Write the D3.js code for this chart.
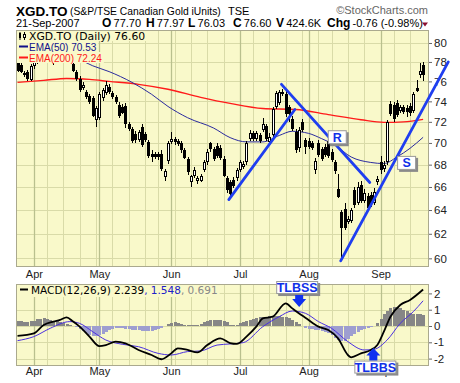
<!DOCTYPE html>
<html><head><meta charset="utf-8">
<script src="https://cdn.jsdelivr.net/npm/d3@7"></script>
<style>body{margin:0;background:#fff;}svg{display:block;}</style>
</head><body>
<svg id="c" width="460" height="383"></svg>
<script>
// ---------------- DATA ----------------
const startDate = "2007-03-26", endDate = "2007-09-21";
const holidays = ["2007-04-06","2007-05-21","2007-07-02","2007-08-06","2007-09-03"];
const monthLabels = ["Apr","May","Jun","Jul","Aug","Sep"];
const priceTicks = [60,62,64,66,68,70,72,74,76,78,80];
const macdTicks = [-2,-1,0,1,2];

const open = [77.9,77.7,76.9,77.0,76.1,77.6,78.0,78.6,79.0,79.0,79.5,79.1,78.4,78.9,79.2,79.3,78.9,77.8,77.0,76.2,
75.3,74.9,74.5,74.3,72.2,72.4,74.3,74.8,75.4,74.8,74.4,73.6,73.4,73.5,71.8,71.3,70.8,70.3,71.5,70.8,
70.1,69.0,69.0,69.0,69.0,66.9,68.3,70.1,70.4,70.2,70.0,69.3,68.5,66.4,67.0,66.5,66.5,67.5,68.2,70.0,
69.4,69.7,69.5,68.5,66.8,66.4,66.6,66.8,67.5,67.8,68.2,70.4,70.9,70.4,70.7,71.2,71.6,70.1,70.7,73.4,
73.8,74.9,74.7,73.4,72.3,71.0,69.5,72.0,70.3,70.2,70.0,67.5,70.0,69.4,69.6,70.2,69.2,68.2,65.8,63.8,
64.1,63.0,63.1,65.7,64.6,66.2,64.8,65.2,65.3,64.6,66.4,68.2,67.6,68.2,73.7,73.6,73.8,73.1,73.4,73.3,
73.5,73.1,75.3,76.7,77.70];
const high = [78.1,77.9,77.1,77.2,77.8,78.2,78.8,79.3,79.6,79.9,80.0,79.4,79.0,79.5,79.8,79.6,79.2,78.2,77.2,76.5,
75.9,75.1,74.7,74.5,73.5,74.9,75.3,76.0,75.7,75.0,74.6,73.9,73.7,73.8,72.0,71.5,71.1,71.2,71.8,71.0,
70.3,69.3,69.2,69.2,69.3,67.6,70.2,71.0,70.6,70.4,70.2,69.5,68.7,67.1,67.8,67.0,67.2,68.4,69.4,70.1,
69.6,70.0,69.8,68.8,67.0,66.6,66.9,67.7,68.4,68.3,70.2,71.2,71.1,71.1,70.9,72.4,71.8,70.9,73.4,75.0,
75.1,75.2,75.0,73.6,72.6,71.3,71.5,72.3,70.5,70.5,70.2,68.6,70.3,69.6,69.9,70.6,69.4,68.4,67.2,64.0,
64.6,63.5,64.2,66.0,66.4,66.5,65.8,65.5,65.6,65.9,67.0,68.8,68.3,72.2,74.0,73.9,74.1,73.6,73.6,73.6,
73.8,74.9,76.1,77.9,77.97];
const low = [77.0,76.9,76.4,76.0,76.0,77.3,77.8,78.3,78.6,78.7,78.9,77.7,78.1,78.5,78.8,78.6,77.9,77.0,76.0,74.9,
75.1,74.2,73.7,72.5,71.5,72.2,74.0,74.6,74.7,74.2,73.7,72.4,72.8,71.4,71.1,70.0,70.0,70.1,69.6,70.1,
68.6,68.2,68.5,68.4,67.4,66.5,68.1,69.9,69.8,69.7,69.1,68.5,67.1,66.0,66.8,66.3,66.4,67.3,68.0,69.2,
68.3,68.6,68.4,66.9,65.5,65.2,65.9,66.5,67.3,67.6,68.0,70.2,70.2,70.2,70.0,71.0,70.2,69.9,70.5,73.2,
73.6,74.5,72.5,72.0,71.1,69.1,69.2,71.0,69.0,69.4,69.3,67.2,68.7,68.3,68.7,68.6,68.2,67.2,65.0,59.9,
62.3,62.8,62.9,64.2,64.4,64.6,64.6,64.0,64.3,64.4,66.2,67.2,67.3,68.0,72.6,72.0,72.5,72.9,72.8,72.5,
72.6,72.9,74.9,76.3,76.03];
const close = [77.1,77.0,76.7,76.2,77.6,78.0,78.6,79.0,78.9,79.6,79.2,78.4,78.8,79.2,79.4,78.9,78.2,77.1,76.2,75.1,
75.6,74.4,73.9,72.6,73.3,74.7,75.1,75.6,74.9,74.4,73.9,72.6,72.9,71.8,71.3,70.2,70.3,71.0,69.8,70.3,
68.8,68.7,68.7,68.7,67.6,67.4,70.0,70.4,70.1,69.9,69.3,68.6,67.3,67.0,67.5,66.8,67.0,68.2,69.2,69.4,
68.5,68.8,68.6,67.0,65.7,65.4,66.1,67.5,68.2,68.1,70.0,70.9,70.4,70.9,70.2,71.8,70.4,70.6,73.2,74.8,
74.9,74.7,72.8,72.8,71.3,69.3,71.2,71.2,69.6,69.6,69.5,68.3,68.9,68.5,68.9,68.8,68.4,67.4,65.1,62.5,
62.5,63.2,64.0,64.4,66.0,64.8,65.5,64.2,64.5,65.6,66.7,67.5,68.0,72.0,72.8,72.3,72.7,73.4,73.0,73.0,
72.9,74.7,75.0,77.1,76.60];

const ema50Idx = [0,10,18,23,28,35,41,46,52,60,65,70,75,80,84,89,93,97,102,108,112,116,120,124];
const ema50    = [79.6,79.3,78.4,77.6,77.0,75.9,74.7,73.5,72.4,71.4,70.5,70.1,70.1,70.7,71.1,70.9,70.4,69.8,68.7,68.2,68.1,68.7,69.5,70.53];
const ema200Idx = [0,8,15,22,28,37,46,56,65,75,85,95,105,112,118,124];
const ema200    = [75.9,76.1,76.3,76.2,76.0,75.7,75.2,74.4,73.8,73.3,73.2,72.7,72.2,71.95,72.0,72.24];

const macdIdx = [0,5,8,11,13,15,17,19,22,25,27,30,33,37,41,44,47,49,52,55,58,62,65,67,70,73,75,78,82,84,86,88,92,95,98,101,102,105,108,110,112,114,117,120,124];
const macd    = [-0.6,-0.45,0.06,0.27,0.37,0.53,0.27,-0.04,-0.65,-1.23,-1.17,-0.96,-1.06,-1.47,-1.78,-2.04,-1.68,-1.37,-1.47,-1.62,-1.17,-0.76,-1.05,-1.1,-0.65,-0.04,0.47,0.57,1.39,1.08,0.78,0.51,-0.04,-0.25,-0.76,-1.78,-1.92,-1.68,-1.47,-1.17,-0.35,0.57,1.29,1.6,2.239];
const signalIdx = [0,5,10,16,19,23,27,32,37,43,47,52,56,61,65,69,75,80,84,88,92,96,101,106,109,113,117,121,124];
const signal    = [-0.9,-0.65,-0.14,0.27,0.16,-0.35,-0.86,-1.12,-1.27,-1.68,-1.78,-1.57,-1.53,-1.17,-1.1,-1.02,-0.04,0.57,0.92,0.78,0.27,-0.14,-0.96,-1.47,-1.43,-0.86,0.16,0.88,1.548];
const hist = [0.30,0.28,0.27,0.26,0.28,0.32,0.40,0.46,0.48,0.44,0.38,0.32,0.28,0.22,0.18,0.12,0.06,0.00,-0.08,-0.18,
-0.30,-0.42,-0.55,-0.62,-0.64,-0.58,-0.48,-0.38,-0.26,-0.16,-0.12,-0.12,-0.14,-0.18,-0.20,-0.22,-0.24,-0.26,-0.28,-0.30,
-0.30,-0.28,-0.24,-0.18,-0.10,0.02,0.12,0.20,0.22,0.18,0.12,0.08,0.06,0.04,0.05,0.06,0.14,0.24,0.30,0.34,
0.36,0.36,0.34,0.30,0.22,0.06,0.04,0.08,0.18,0.26,0.32,0.38,0.44,0.50,0.54,0.56,0.58,0.60,0.62,0.62,
0.60,0.58,0.56,0.48,0.36,0.22,0.10,-0.02,-0.10,-0.16,-0.20,-0.24,-0.26,-0.30,-0.36,-0.44,-0.56,-0.72,-0.86,-0.92,
-0.90,-0.78,-0.62,-0.48,-0.34,-0.24,-0.16,-0.10,-0.06,0.00,0.20,0.46,0.72,0.94,1.10,1.18,1.16,1.08,1.00,0.92,
0.82,0.76,0.72,0.74,0.69];

// trend lines drawn on the chart: [index, price]
const trendLines = [[[64.6,64.9],[84.8,73.2]], [[80.7,75.7],[107.7,66.4]], [[98.8,59.8],[131.7,78.0]]];
const boxLabels = [{t:"R", i:95, p:71.2}, {t:"S", i:116.2, p:68.8}];

// ---------------- SETUP ----------------
const svg = d3.select("#c");
const dates = [];
{
  const s = new Date(startDate+"T00:00:00Z"), e = new Date(endDate+"T00:00:00Z");
  for (let d = new Date(s); d <= e; d.setUTCDate(d.getUTCDate()+1)) {
    const iso = d.toISOString().slice(0,10), dw = d.getUTCDay();
    if (dw !== 0 && dw !== 6 && !holidays.includes(iso)) dates.push(new Date(d));
  }
}
const monthIdx = [], weekIdx = [];
dates.forEach((d,k) => {
  if (k === 0) return;
  const p = dates[k-1];
  if (d.getUTCMonth() !== p.getUTCMonth()) monthIdx.push(k);
  else if ((d - p) / 864e5 > 1 && d.getUTCDay() <= 2) weekIdx.push(k);
  else if (d.getUTCDay() < p.getUTCDay()) weekIdx.push(k);
});

const L = 16, R = 429, T1 = 30, B1 = 267, T2 = 284, B2 = 366;
const x = d3.scaleLinear().domain([-0.46, 125.8]).range([L, R]);
const yP = d3.scaleLog().domain([59.31, 81.4]).range([B1, T1]);
const yM = d3.scaleLinear().domain([-2.454, 2.577]).range([B2, T2]);

const BG = "#f9f9ca", GRID = "#d9dba8", MGRID = "#b9c08e", FRAME = "#aaa98e";
const FONT = "'Liberation Sans', Arial, sans-serif";
const VFONT = "'DejaVu Sans', Verdana, sans-serif";

// ---------------- HEADER ----------------
const hdr = svg.append("g").attr("font-family", FONT).attr("fill", "#000");
hdr.append("text").attr("x", 16).attr("y", 15.5).attr("font-size", 13.5).attr("font-weight", "bold").text("XGD.TO");
const sub = hdr.append("text").attr("x", 70).attr("y", 15).attr("font-size", 11).text("(S&P/TSE Canadian Gold iUnits)");
{
  const w = sub.node().getComputedTextLength();
  if (w > 151) sub.attr("font-size", 11 * 151 / w);
}
hdr.append("text").attr("x", 228).attr("y", 15).attr("font-size", 11).text("TSE");
hdr.append("text").attr("x", 428).attr("y", 14).attr("font-size", 11).attr("fill", "#666").attr("text-anchor", "end").text("\u00A9StockCharts.com");
hdr.append("text").attr("x", 16).attr("y", 27).attr("font-size", 11).text("21-Sep-2007");
const stats = [["O","77.70",102],["H","77.97",146],["L","76.03",188],["C","76.60",233],["V","424.6K",276],["Chg","-0.76 (-0.98%)",327]];
stats.forEach(s => {
  const t = hdr.append("text").attr("x", s[2]).attr("y", 27).attr("font-size", 11);
  t.append("tspan").attr("font-weight", "bold").attr("font-size", 12).text(s[0]);
  t.append("tspan").text("\u2009" + s[1]);
});
hdr.append("path").attr("d", "M422,22.5 L428,22.5 L425,26.5 Z").attr("fill", "#8b1030");

// ---------------- PANELS ----------------
function panel(top, bottom, yScale, ticks) {
  const g = svg.append("g");
  g.append("rect").attr("x", L).attr("y", top).attr("width", R-L).attr("height", bottom-top).attr("fill", BG);
  g.selectAll(".hg").data(ticks).join("line")
    .attr("x1", L).attr("x2", R).attr("y1", d => Math.round(yScale(d))+0.5).attr("y2", d => Math.round(yScale(d))+0.5)
    .attr("stroke", GRID);
  g.selectAll(".wg").data(weekIdx).join("line")
    .attr("x1", d => Math.round(x(d))+0.5).attr("x2", d => Math.round(x(d))+0.5).attr("y1", top).attr("y2", bottom)
    .attr("stroke", GRID);
  g.selectAll(".mg").data(monthIdx).join("line")
    .attr("x1", d => Math.round(x(d))+0.5).attr("x2", d => Math.round(x(d))+0.5).attr("y1", top).attr("y2", bottom)
    .attr("stroke", MGRID).attr("stroke-width", 1.3);
  return g;
}
panel(T1, B1, yP, priceTicks);
panel(T2, B2, yM, macdTicks);

svg.append("clipPath").attr("id", "cp1").append("rect").attr("x", L).attr("y", T1).attr("width", R-L).attr("height", B1-T1);
svg.append("clipPath").attr("id", "cp2").append("rect").attr("x", L).attr("y", T2).attr("width", R-L).attr("height", B2-T2);

// ---------------- MAIN PRICE ----------------
const main = svg.append("g").attr("clip-path", "url(#cp1)");
const lineP = d3.line().x(d => x(d[0])).y(d => yP(d[1])).curve(d3.curveMonotoneX);
main.append("path").datum(ema200Idx.map((k,j) => [k, ema200[j]])).attr("d", lineP)
  .attr("fill", "none").attr("stroke", "#ff1a1a").attr("stroke-width", 1.4);
main.append("path").datum(ema50Idx.map((k,j) => [k, ema50[j]])).attr("d", lineP)
  .attr("fill", "none").attr("stroke", "#2b2b9e").attr("stroke-width", 1);

const cg = main.append("g").attr("shape-rendering", "crispEdges");
dates.forEach((d,k) => {
  const px = Math.round(x(k));
  const o = open[k], c = close[k];
  cg.append("rect").attr("x", px).attr("width", 1)
    .attr("y", Math.round(yP(high[k]))).attr("height", Math.max(1, Math.round(yP(low[k])) - Math.round(yP(high[k]))))
    .attr("fill", "#000");
  const top = Math.round(yP(Math.max(o,c))), bot = Math.max(top+1, Math.round(yP(Math.min(o,c))));
  if (c < o) {
    cg.append("rect").attr("x", px-1).attr("width", 3).attr("y", top).attr("height", bot-top).attr("fill", "#000");
  } else {
    cg.append("rect").attr("x", px-0.5).attr("width", 2).attr("y", top+0.5).attr("height", Math.max(1, bot-top-1))
      .attr("fill", "#fff").attr("stroke", "#000").attr("stroke-width", 1);
  }
});

// axes
const axP = d3.axisRight(yP).tickValues(priceTicks).tickSize(3).tickPadding(2).tickFormat(d => String(d));
const gP = svg.append("g").attr("transform", `translate(${R},0)`).call(axP);
const axM = d3.axisRight(yM).tickValues(macdTicks).tickSize(3).tickPadding(2).tickFormat(d => String(d));
const gM = svg.append("g").attr("transform", `translate(${R},0)`).call(axM);
const axX1 = d3.axisBottom(x).tickValues(monthIdx).tickSize(0).tickPadding(3).tickFormat((d,j) => monthLabels[j]);
const gX1 = svg.append("g").attr("transform", `translate(0,${B1})`).call(axX1);
const axX2 = d3.axisBottom(x).tickValues(monthIdx).tickSize(0).tickPadding(1.5).tickFormat((d,j) => monthLabels[j]);
const gX2 = svg.append("g").attr("transform", `translate(0,${B2})`).call(axX2);
[gP, gM].forEach(g => {
  g.select(".domain").remove();
  g.selectAll("text").attr("font-family", FONT).attr("font-size", 11.5).attr("fill", "#222");
  g.selectAll("line").attr("stroke", "#666");
});
[gX1, gX2].forEach(g => {
  g.select(".domain").remove();
  g.selectAll("text").attr("font-family", FONT).attr("font-size", 11).attr("fill", "#222");
});

// ---------------- MACD ----------------
const mg = svg.append("g").attr("clip-path", "url(#cp2)");
mg.append("g").attr("shape-rendering", "crispEdges").selectAll("rect").data(hist).join("rect")
  .attr("x", (v,k) => Math.round(x(k)) - 1).attr("width", 2.6)
  .attr("y", v => yM(Math.max(0,v))).attr("height", v => Math.abs(yM(0) - yM(v)))
  .attr("fill", v => v >= 0 ? "#868686" : "#9e9ed0");
const lineM = d3.line().x(d => x(d[0])).y(d => yM(d[1])).curve(d3.curveMonotoneX);
mg.append("path").datum(signalIdx.map((k,j) => [k, signal[j]])).attr("d", lineM)
  .attr("fill", "none").attr("stroke", "#4a2fe0").attr("stroke-width", 1);
mg.append("path").datum(macdIdx.map((k,j) => [k, macd[j]])).attr("d", lineM)
  .attr("fill", "none").attr("stroke", "#000").attr("stroke-width", 1.8);

// frames
[[T1,B1],[T2,B2]].forEach(([t,b]) => svg.append("rect").attr("x", L+0.5).attr("y", t+0.5).attr("width", R-L-1).attr("height", b-t-1)
  .attr("fill", "none").attr("stroke", FRAME));

// ---------------- TREND LINES ----------------
svg.append("g").selectAll("line").data(trendLines).join("line")
  .attr("x1", d => x(d[0][0])).attr("y1", d => yP(d[0][1]))
  .attr("x2", d => x(d[1][0])).attr("y2", d => yP(d[1][1]))
  .attr("stroke", "#1f3ef0").attr("stroke-width", 2.8).attr("stroke-linecap", "round");

// ---------------- LEGENDS ----------------
function legendRow(yBase, label, color, font, size, marker, boxTop, boxBot) {
  const g = svg.append("g");
  const bg = g.append("rect").attr("fill", BG);
  const t = g.append("text").attr("x", 29).attr("y", yBase).attr("font-family", font).attr("font-size", size).attr("fill", color);
  label.forEach(p => t.append("tspan").attr("fill", p[1]).text(p[0]));
  const w = t.node().getComputedTextLength();
  bg.attr("x", L+1).attr("y", boxTop).attr("width", 29 + w + 2 - L - 1).attr("height", boxBot - boxTop);
  marker(g);
}
legendRow(39.5, [["XGD.TO (Daily) 76.60", "#000"]], "#000", VFONT, 10.8, g => {
  g.append("rect").attr("x", 19).attr("y", 33).attr("width", 2).attr("height", 5).attr("fill", "#000");
  g.append("rect").attr("x", 19.5).attr("y", 32).attr("width", 1).attr("height", 8).attr("fill", "#000");
  g.append("rect").attr("x", 23.5).attr("y", 34.5).attr("width", 2).attr("height", 3).attr("fill", "#fff").attr("stroke", "#000").attr("stroke-width", 1);
  g.append("rect").attr("x", 24).attr("y", 32).attr("width", 1).attr("height", 2.5).attr("fill", "#000");
  g.append("rect").attr("x", 24).attr("y", 38).attr("width", 1).attr("height", 2).attr("fill", "#000");
}, 31, 41);
legendRow(50.5, [["EMA(50) 70.53", "#10108a"]], "#10108a", FONT, 10, g => {
  g.append("rect").attr("x", 19).attr("y", 45.5).attr("width", 9).attr("height", 2).attr("fill", "#10108a");
}, 41, 52);
legendRow(61.5, [["EMA(200) 72.24", "#ff1a1a"]], "#ff1a1a", FONT, 10, g => {
  g.append("rect").attr("x", 19).attr("y", 56.5).attr("width", 9).attr("height", 2).attr("fill", "#ff1a1a");
}, 52, 63);
(function () {
  const g = svg.append("g");
  const bg = g.append("rect").attr("fill", BG);
  const t = g.append("text").attr("x", 31).attr("y", 293.5).attr("font-family", VFONT).attr("font-size", 10.5);
  t.append("tspan").attr("fill", "#000").text("MACD(12,26,9) 2.239");
  t.append("tspan").attr("fill", "#2020c8").text(", 1.548");
  t.append("tspan").attr("fill", "#888").text(", 0.691");
  const w = t.node().getComputedTextLength();
  bg.attr("x", L+1).attr("y", T2+1).attr("width", 31 + w + 2 - L - 1).attr("height", 12);
  g.append("rect").attr("x", 20).attr("y", 288.5).attr("width", 8).attr("height", 2).attr("fill", "#000");
})();

// ---------------- ANNOTATION BOXES ----------------
function labelBox(cx, cy, w, h, text, size) {
  const g = svg.append("g");
  g.append("rect").attr("x", cx - w/2 + 2).attr("y", cy - h/2 + 2).attr("width", w).attr("height", h).attr("fill", "#8a8a8a");
  g.append("rect").attr("x", cx - w/2 + 0.5).attr("y", cy - h/2 + 0.5).attr("width", w-1).attr("height", h-1)
    .attr("fill", "#fff").attr("stroke", "#9a9a9a");
  g.append("text").attr("x", cx).attr("y", cy + size*0.36).attr("text-anchor", "middle")
    .attr("font-family", FONT).attr("font-weight", "bold").attr("font-size", size).attr("fill", "#1030e8").text(text);
}
boxLabels.forEach(b => labelBox(x(b.i) + 9, yP(b.p) + 7, 19, 14, b.t, 12.5));

// MACD signal annotations: [index, macd value]
const tlbss = {i: 85.5, v: 2.36}, tlbbs = {i: 109.4, v: -2.52};
labelBox(x(tlbss.i), yM(tlbss.v), 42, 13, "TLBSS", 12.5);
labelBox(x(tlbbs.i), yM(tlbbs.v), 42, 13, "TLBBS", 12.5);
(function () {
  const ax = x(tlbss.i) + 2, y0 = yM(tlbss.v) + 7.5;
  svg.append("path").attr("fill", "#1030f0")
    .attr("d", `M${ax-4},${y0} L${ax+4},${y0} L${ax+4},${y0+4} L${ax+7},${y0+4} L${ax},${y0+12} L${ax-7},${y0+4} L${ax-4},${y0+4} Z`);
  const bx = x(tlbbs.i) - 2, y1 = yM(tlbbs.v) - 6.5;
  svg.append("path").attr("fill", "#1030f0")
    .attr("d", `M${bx-4},${y1} L${bx+4},${y1} L${bx+4},${y1-5} L${bx+7},${y1-5} L${bx},${y1-12.5} L${bx-7},${y1-5} L${bx-4},${y1-5} Z`);
})();
</script>
</body></html>
